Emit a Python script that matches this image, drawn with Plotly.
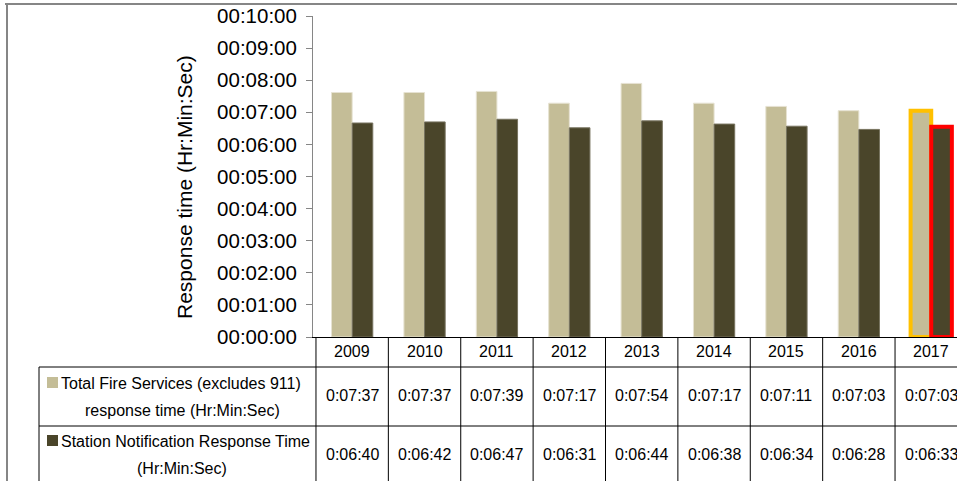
import plotly.graph_objects as go

# Annual response times, in seconds
years = ["2009", "2010", "2011", "2012", "2013", "2014", "2015", "2016", "2017"]
total_fire_sec = [457, 457, 459, 437, 474, 437, 431, 423, 423]
station_notif_sec = [400, 402, 407, 391, 404, 398, 394, 388, 393]

series_names = [
    ["Total Fire Services (excludes 911)", "response time (Hr:Min:Sec)"],
    ["Station Notification Response Time", "(Hr:Min:Sec)"],
]

# Y axis ticks in minutes
tick_minutes = list(range(0, 11))
tick_labels = [f"00:{m:02d}:00" for m in tick_minutes]

LIGHT = "#C4BD97"
DARK = "#4A452A"
FONT = "Liberation Sans, Arial, sans-serif"

W, H = 957, 481
ML, MR, MT, MB = 313, 0, 16, 144
PW, PH = W - ML - MR, H - MT - MB
X_RANGE = [-0.541, 8.356]


def fmt(sec):
    return f"0:{sec // 60:02d}:{sec % 60:02d}"


def px(xpix):
    return (xpix - ML) / PW


def py(ypix):
    return (H - MB - ypix) / PH


n = len(years)
light_line_col = ["#E6E2D2"] * (n - 1) + ["#FFC000"]
light_line_w = [1] * (n - 1) + [4]
dark_line_col = ["#77735F"] * (n - 1) + ["#FF0000"]
dark_line_w = [1] * (n - 1) + [4]

fig = go.Figure()
fig.add_trace(go.Bar(
    x=years, y=[s / 60 for s in total_fire_sec], name=" ".join(series_names[0]),
    marker=dict(color=LIGHT, line=dict(color=light_line_col, width=light_line_w)),
    hoverinfo="skip",
))
fig.add_trace(go.Bar(
    x=years, y=[s / 60 for s in station_notif_sec], name=" ".join(series_names[1]),
    marker=dict(color=DARK, line=dict(color=dark_line_col, width=dark_line_w)),
    hoverinfo="skip",
))

shapes = []
annotations = []
LINE = dict(color="#000000", width=1)

# Data table grid below the plot
y_axis_px, y_hdr_px, y_row1_px, y_bot_px = 338, 367, 426, 481
for i in range(n + 1):
    xb = i - 0.5
    shapes.append(dict(type="line", xref="x", yref="paper", x0=xb, x1=xb,
                       y0=py(y_axis_px), y1=py(y_bot_px), line=LINE))
for yl in (y_hdr_px, y_row1_px):
    shapes.append(dict(type="line", xref="paper", yref="paper", x0=px(39), x1=1.0,
                       y0=py(yl), y1=py(yl), line=LINE))
shapes.append(dict(type="line", xref="paper", yref="paper", x0=px(39), x1=px(39),
                   y0=py(y_hdr_px), y1=py(y_bot_px), line=LINE))

# Outer chart frame
FRAME = dict(color="#868686", width=2)
shapes.append(dict(type="line", xref="paper", yref="paper", x0=px(5), x1=1.0,
                   y0=py(4), y1=py(4), line=FRAME))
shapes.append(dict(type="line", xref="paper", yref="paper", x0=px(7), x1=px(7),
                   y0=py(4), y1=py(y_bot_px), line=FRAME))

TFONT = dict(family=FONT, size=16, color="#000000")

# Year header row and value rows (category index on the x axis)
for i, yr in enumerate(years):
    annotations.append(dict(x=i, y=py(352), xref="x", yref="paper", text=yr,
                            showarrow=False, font=TFONT, xanchor="center", yanchor="middle"))
    annotations.append(dict(x=i, y=py(396), xref="x", yref="paper", text=fmt(total_fire_sec[i]),
                            showarrow=False, font=TFONT, xanchor="center", yanchor="middle"))
    annotations.append(dict(x=i, y=py(454), xref="x", yref="paper", text=fmt(station_notif_sec[i]),
                            showarrow=False, font=TFONT, xanchor="center", yanchor="middle"))

# Legend keys and series labels in the first column
for (l1, l2), col, sq_top, t1, t2 in [
    (series_names[0], LIGHT, 377, 383, 410),
    (series_names[1], DARK, 435, 441, 468),
]:
    shapes.append(dict(type="rect", xref="paper", yref="paper", x0=px(47), x1=px(58),
                       y0=py(sq_top + 11), y1=py(sq_top), fillcolor=col, line=dict(width=0)))
    annotations.append(dict(x=px(59), y=py(t1), xref="paper", yref="paper", text=l1,
                            showarrow=False, font=TFONT, xanchor="left", yanchor="middle"))
    annotations.append(dict(x=px(182), y=py(t2), xref="paper", yref="paper", text=l2,
                            showarrow=False, font=TFONT, xanchor="center", yanchor="middle"))

# Y axis title
annotations.append(dict(x=px(185), y=py(187), xref="paper", yref="paper",
                        text="Response time (Hr:Min:Sec)", textangle=-90, showarrow=False,
                        font=dict(family=FONT, size=21, color="#000000"),
                        xanchor="center", yanchor="middle"))

fig.update_layout(
    width=W, height=H, autosize=False,
    margin=dict(l=ML, r=MR, t=MT, b=MB, pad=0),
    paper_bgcolor="white", plot_bgcolor="white",
    barmode="group", bargap=0.43, bargroupgap=0,
    showlegend=False,
    shapes=shapes, annotations=annotations,
    xaxis=dict(type="category", range=X_RANGE, showticklabels=False, ticks="",
               showgrid=False, zeroline=False, showline=True, linecolor="#000000",
               linewidth=1, fixedrange=True),
    yaxis=dict(range=[0, 10], tickvals=tick_minutes, ticktext=tick_labels,
               showgrid=False, zeroline=False, showline=True, linecolor="#868686",
               linewidth=1, ticks="outside", ticklen=6, tickcolor="#868686",
               tickfont=dict(family=FONT, size=20.5, color="#000000"),
               ticklabelstandoff=5, fixedrange=True),
)

fig.write_html("out.html", config={"displayModeBar": False})
